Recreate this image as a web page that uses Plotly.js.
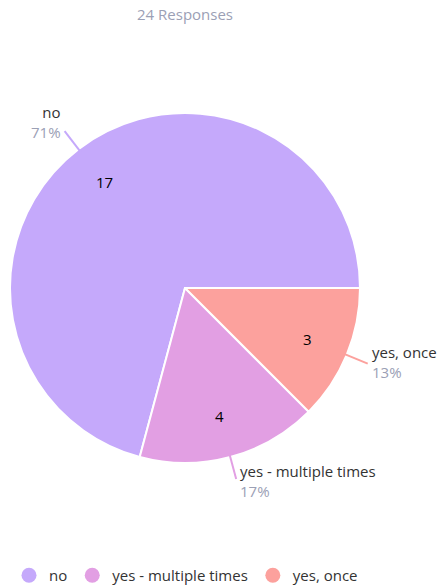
<!DOCTYPE html>
<html>
<head>
<meta charset="utf-8">
<script src="https://cdn.plot.ly/plotly-3.0.1.min.js"></script>
<style>html,body{margin:0;padding:0;background:#fff;}#chart{width:448px;height:585px;}</style>
</head>
<body>
<div id="chart"></div>
<script>
var categories = ['no', 'yes - multiple times', 'yes, once'];
var counts = [17, 4, 3];
var colors = ['#c5a9fb', '#e29fe3', '#fca19d'];
var titleText = '24 Responses';

var W = 448, H = 585;
var cx = 185, cy = 288, R = 175;
var FONT = '"Open Sans", sans-serif';
var total = counts.reduce(function(a, b){ return a + b; }, 0);
var startAngle = 90; // first slice begins at 3 o'clock, then counterclockwise

function px2x(px){ return px / W; }
function py2y(py){ return 1 - py / H; }

var pie = {
  type: 'pie',
  labels: categories,
  values: counts,
  sort: false,
  direction: 'counterclockwise',
  rotation: startAngle - counts[0] / total * 360,
  textinfo: 'none',
  hoverinfo: 'none',
  showlegend: false,
  marker: {colors: colors, line: {color: '#ffffff', width: 2}},
  domain: {x: [px2x(cx - R), px2x(cx + R)], y: [py2y(cy + R), py2y(cy - R)]}
};

var legendTraces = categories.map(function(c, i){
  return {type: 'scatter', mode: 'markers', x: [null], y: [null], name: c,
    marker: {size: 15, color: colors[i]}, hoverinfo: 'none', showlegend: true};
});

var annotations = [];
var shapes = [];
var cum = 0;
categories.forEach(function(c, i){
  var start = startAngle - cum * 360 / total;
  var mid = start - counts[i] * 180 / total;
  cum += counts[i];
  var t = mid * Math.PI / 180;
  function pt(r){ return [cx + r * Math.sin(t), cy - r * Math.cos(t)]; }
  var a = pt(R * 0.98), b = pt(R * 1.13), m = pt(R * 0.76);
  shapes.push({type: 'line', xref: 'paper', yref: 'paper',
    x0: px2x(a[0]), y0: py2y(a[1]), x1: px2x(b[0]), y1: py2y(b[1]),
    line: {color: colors[i], width: 2}});
  var right = Math.sin(t) >= 0;
  var pct = Math.round(counts[i] / total * 100);
  var shift = 6 * Math.cos(t) + 4;
  annotations.push({xref: 'paper', yref: 'paper', x: px2x(b[0]), y: py2y(b[1]),
    xanchor: right ? 'left' : 'right', yanchor: 'middle', align: right ? 'left' : 'right',
    xshift: right ? 3 : -3, yshift: shift, showarrow: false, borderpad: 0,
    text: c + '<br><span style="color:#9ba0b5">' + pct + '%</span>',
    font: {family: FONT, size: 15, color: '#333333'}});
  annotations.push({xref: 'paper', yref: 'paper', x: px2x(m[0]), y: py2y(m[1]),
    xanchor: 'center', yanchor: 'middle', showarrow: false,
    text: String(counts[i]), font: {family: FONT, size: 15, color: '#000000'}});
});

var layout = {
  width: W, height: H,
  margin: {l: 0, r: 0, t: 0, b: 0, autoexpand: false},
  paper_bgcolor: '#ffffff', plot_bgcolor: '#ffffff',
  title: {text: titleText, x: px2x(cx), xanchor: 'center', xref: 'paper',
    y: py2y(15), yanchor: 'middle', font: {family: FONT, size: 15, color: '#9ba0b5'}},
  xaxis: {visible: false}, yaxis: {visible: false},
  showlegend: true,
  legend: {orientation: 'h', x: px2x(9), xanchor: 'left', y: py2y(559), yanchor: 'top',
    font: {family: FONT, size: 15, color: '#333333'}, bgcolor: 'rgba(0,0,0,0)'},
  annotations: annotations,
  shapes: shapes
};

Plotly.newPlot('chart', [pie].concat(legendTraces), layout, {displayModeBar: false, staticPlot: true});
</script>
</body>
</html>
